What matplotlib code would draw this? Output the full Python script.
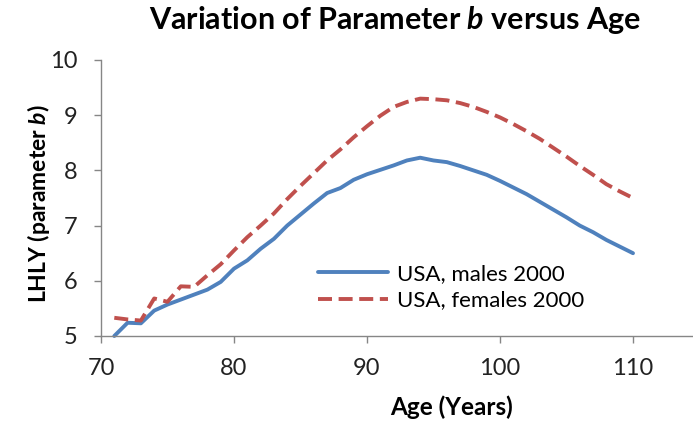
import numpy as np
import matplotlib
matplotlib.use("Agg")
import matplotlib.pyplot as plt

plt.rcParams['font.family'] = ['Lato', 'DejaVu Sans']
plt.rcParams['mathtext.fontset'] = 'custom'
plt.rcParams['mathtext.bfit'] = 'Lato:bold:italic'
plt.rcParams['mathtext.it'] = 'Lato:italic'

# data
ages = list(range(71, 111))
males = [5.00, 5.24, 5.23, 5.46, 5.57, 5.66, 5.75, 5.84, 5.98, 6.22,
         6.37, 6.58, 6.76, 7.00, 7.20, 7.40, 7.59, 7.68, 7.83, 7.93,
         8.01, 8.09, 8.18, 8.23, 8.18, 8.15, 8.08, 8.00, 7.92, 7.81,
         7.69, 7.57, 7.43, 7.29, 7.15, 7.00, 6.88, 6.74, 6.62, 6.50]
females = [5.33, 5.30, 5.28, 5.68, 5.62, 5.90, 5.89, 6.10, 6.30, 6.55,
           6.79, 7.00, 7.22, 7.48, 7.72, 7.95, 8.18, 8.38, 8.60, 8.80,
           8.99, 9.15, 9.24, 9.30, 9.29, 9.27, 9.22, 9.15, 9.06, 8.96,
           8.84, 8.71, 8.57, 8.41, 8.25, 8.08, 7.92, 7.75, 7.62, 7.50]
x_ticks = [70, 80, 90, 100, 110]
y_ticks = [5, 6, 7, 8, 9, 10]

fig = plt.figure(figsize=(6.93, 4.25), dpi=100)
ax = fig.add_axes((101/693, 1-336/425, 1-101/693, (336-60)/425))

ax.plot(ages, males, color='#4F81BD', lw=2.8, label='USA, males 2000',
        solid_capstyle='round', clip_on=False)
ax.plot(ages, females, color='#C0504D', lw=2.8, dashes=(3.6, 1.7),
        label='USA, females 2000', clip_on=False)

ax.set_xlim(70, 70 + (693-101)/13.3)
ax.set_ylim(5, 10)
ax.set_xticks(x_ticks)
ax.set_yticks(y_ticks)

gray = '#868686'
for s in ['top', 'right']:
    ax.spines[s].set_visible(False)
for s in ['left', 'bottom']:
    ax.spines[s].set_color(gray)
    ax.spines[s].set_linewidth(1.0)
ax.tick_params(axis='both', colors=gray, length=5, width=1.0,
               labelsize=17, labelcolor='#222222', direction='out')
ax.tick_params(axis='x', pad=11)
ax.tick_params(axis='y', pad=12)

ax.set_xlabel('Age (Years)', fontsize=17.5, fontweight='bold')
ax.xaxis.set_label_coords((451.5-101)/592, -0.215)
ax.set_ylabel(r'LHLY (parameter $\mathbfit{b}$)', fontsize=16.5,
              fontweight='bold')
ax.yaxis.set_label_coords((52-101)/592, 0.48)

fig.text(395/693, 1-28.5/425, r'Variation of Parameter $\mathbfit{b}$ versus Age',
         fontsize=22, fontweight='bold', ha='center', va='baseline')

leg = ax.legend(loc='center left',
                bbox_to_anchor=((318-101)/592, (336-287)/276),
                frameon=False, fontsize=16, handlelength=3.15,
                handletextpad=0.4, labelspacing=0.3, borderpad=0,
                borderaxespad=0)

fig.savefig('out.png', dpi=100)
